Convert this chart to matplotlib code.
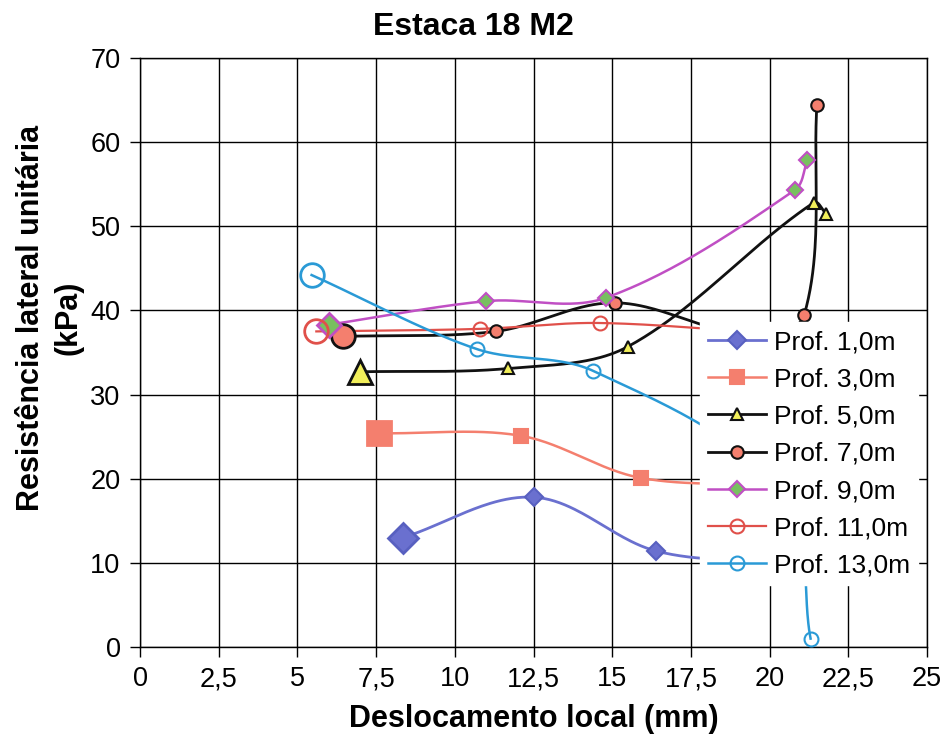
import numpy as np
import matplotlib
matplotlib.use("Agg")
import matplotlib.pyplot as plt

plt.rcParams['font.family'] = ['Liberation Sans', 'DejaVu Sans']

# Lateral resistance vs. local displacement, one series per depth
labels = ["Prof. 1,0m", "Prof. 3,0m", "Prof. 5,0m", "Prof. 7,0m",
          "Prof. 9,0m", "Prof. 11,0m", "Prof. 13,0m"]

x_1m = [8.35, 12.5, 16.4, 20.6]
y_1m = [13.0, 17.8, 11.4, 10.0]

x_3m = [7.6, 12.1, 15.9, 20.6]
y_3m = [25.4, 25.1, 20.1, 19.3]

x_5m = [7.0, 11.7, 15.5, 21.4, 21.8]
y_5m = [32.7, 33.1, 35.7, 52.8, 51.4]

x_7m = [6.45, 11.3, 15.1, 19.4, 21.1, 21.5]
y_7m = [36.9, 37.5, 40.9, 37.0, 39.5, 64.4]

x_9m = [6.0, 11.0, 14.8, 20.8, 21.2]
y_9m = [38.3, 41.1, 41.5, 54.3, 57.9]

x_11m = [5.6, 10.8, 14.6, 20.3]
y_11m = [37.5, 37.8, 38.5, 37.2]

x_13m = [5.45, 10.7, 14.4, 20.4, 21.3]
y_13m = [44.2, 35.4, 32.8, 18.5, 1.0]

xs = [x_1m, x_3m, x_5m, x_7m, x_9m, x_11m, x_13m]
ys = [y_1m, y_3m, y_5m, y_7m, y_9m, y_11m, y_13m]

x_ticks = [0, 2.5, 5, 7.5, 10, 12.5, 15, 17.5, 20, 22.5, 25]
x_ticklabels = ["0", "2,5", "5", "7,5", "10", "12,5", "15", "17,5", "20", "22,5", "25"]
y_ticks = [0, 10, 20, 30, 40, 50, 60, 70]

styles = [
    dict(color="#6a70cf", marker="D", mfc="#6a70cf", mec="#5860c0", ms=9, big=15, lw=2.0),
    dict(color="#f47f6e", marker="s", mfc="#f47f6e", mec="#f47f6e", ms=10, big=17, lw=1.8),
    dict(color="#111111", marker="^", mfc="#f2ef5a", mec="#111111", ms=9, big=17, lw=2.0),
    dict(color="#111111", marker="o", mfc="#f47f6e", mec="#111111", ms=9, big=17, lw=2.0),
    dict(color="#c04fc4", marker="D", mfc="#78c060", mec="#c04fc4", ms=8, big=12, lw=1.8),
    dict(color="#e0504a", marker="o", mfc="none", mec="#e0504a", ms=10, big=17, lw=1.6),
    dict(color="#2a9ad6", marker="o", mfc="none", mec="#2a9ad6", ms=10, big=17, lw=1.8),
]

fig = plt.figure(figsize=(9.46, 7.42), dpi=100)
ax = fig.add_axes([0.148, 0.128, 0.832, 0.794])
ax.set_xlim(0, 25)
ax.set_ylim(0, 70)


def smooth(xd, yd, n=50, k=0.33):
    """Bezier smoothing in display space; control arms scale with segment length."""
    pts = ax.transData.transform(np.column_stack([xd, yd]))
    m = len(pts)
    tang = np.zeros_like(pts)
    for i in range(m):
        a = pts[max(i - 1, 0)]
        b = pts[min(i + 1, m - 1)]
        d = b - a
        tang[i] = d / (np.hypot(*d) or 1.0)
    t = np.linspace(0, 1, n)[:, None]
    out = []
    for i in range(m - 1):
        p1, p2 = pts[i], pts[i + 1]
        L = np.hypot(*(p2 - p1))
        c1 = p1 + tang[i] * L * k
        c2 = p2 - tang[i + 1] * L * k
        seg = ((1 - t) ** 3) * p1 + 3 * ((1 - t) ** 2) * t * c1 + 3 * (1 - t) * t ** 2 * c2 + t ** 3 * p2
        out.append(seg)
    curve = np.vstack(out)
    return ax.transData.inverted().transform(curve)


ax.set_xticks(x_ticks)
ax.set_xticklabels(x_ticklabels)
ax.set_yticks(y_ticks)
ax.grid(True, color="black", lw=1.0)
ax.set_axisbelow(True)

handles = []
for xd, yd, st, lab in zip(xs, ys, styles, labels):
    c = smooth(xd, yd)
    ax.plot(c[:, 0], c[:, 1], color=st["color"], lw=st["lw"], zorder=3)
    ax.plot(xd[1:], yd[1:], ls="none", marker=st["marker"], mfc=st["mfc"], mec=st["mec"],
            ms=st["ms"], mew=1.5, zorder=4)
    ax.plot(xd[:1], yd[:1], ls="none", marker=st["marker"], mfc=st["mfc"], mec=st["mec"],
            ms=st["big"], mew=2.0, zorder=4)
    h, = ax.plot([], [], color=st["color"], lw=st["lw"], marker=st["marker"], mfc=st["mfc"],
                 mec=st["mec"], ms=st["ms"], mew=1.5)
    handles.append(h)

for s in ax.spines.values():
    s.set_color("black")
    s.set_linewidth(1.0)
ax.tick_params(direction="out", length=7, width=1.0, colors="black", labelsize=19.5, pad=7)

leg = ax.legend(handles, labels, loc="upper left", bbox_to_anchor=(0.711, 0.551),
                fontsize=19, frameon=True, fancybox=False, edgecolor="white",
                facecolor="white", framealpha=1.0, handlelength=2.2, handletextpad=0.3,
                labelspacing=0.5, borderpad=0.3, borderaxespad=0.0)
leg.set_zorder(10)

fig.text(0.5, 1 - 27 / 742, "Estaca 18 M2", fontsize=23, fontweight="bold",
         ha="center", va="center")
ax.set_xlabel("Deslocamento local (mm)", fontsize=22, fontweight="bold", labelpad=8)
ax.set_ylabel("Resistência lateral unitária\n(kPa)", fontsize=22, fontweight="bold",
              linespacing=1.3)
ax.yaxis.set_label_coords(-0.072, 0.559)

fig.savefig("out.png", dpi=100)
